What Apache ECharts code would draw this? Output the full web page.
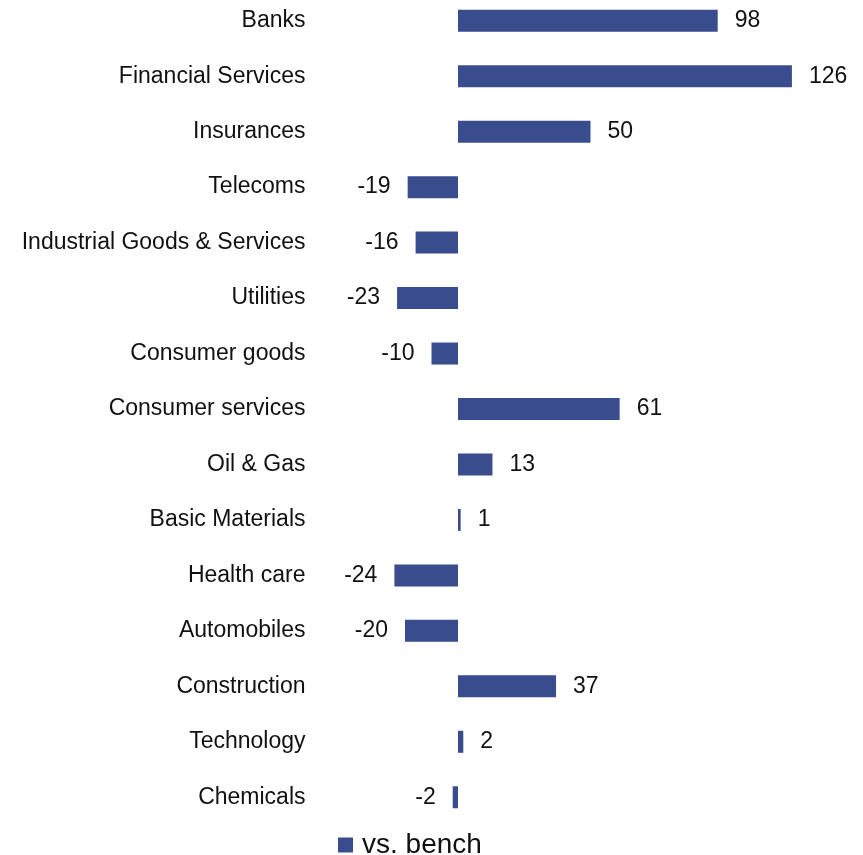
<!DOCTYPE html>
<html>
<head>
<meta charset="utf-8">
<script src="https://cdn.jsdelivr.net/npm/echarts@6/dist/echarts.min.js"></script>
<style>
  html, body { margin: 0; padding: 0; background: #fff; overflow: hidden; }
  /* chart is shifted up a bit: the first band starts above the page edge */
  #chart { width: 863px; height: 862px; margin-top: -7px; }
</style>
</head>
<body>
<div id="chart"></div>
<script>
// sector names, top to bottom
const sectors = [
  'Banks', 'Financial Services', 'Insurances', 'Telecoms',
  'Industrial Goods & Services', 'Utilities', 'Consumer goods',
  'Consumer services', 'Oil & Gas', 'Basic Materials', 'Health care',
  'Automobiles', 'Construction', 'Technology', 'Chemicals'
]
// relative position vs. benchmark
const vsBench = [98, 126, 50, -19, -16, -23, -10, 61, 13, 1, -24, -20, 37, 2, -2]

const chart = echarts.init(document.getElementById('chart'))
const font = 'Arial, "Liberation Sans", sans-serif'

chart.setOption({
  animation: false,
  textStyle: {fontFamily: font},
  legend: {
    data: ['vs. bench'],
    left: 338,
    top: 838,
    padding: 0,
    itemWidth: 15,
    itemHeight: 15,
    icon: 'rect',
    textStyle: {fontSize: 28, color: '#111', fontFamily: font, padding: [0, 0, 0, 4]}
  },
  grid: {left: 325.5, right: 34, top: 0, bottom: 30},
  xAxis: {
    type: 'value',
    min: -50,
    max: 140,
    show: false
  },
  yAxis: {
    type: 'category',
    inverse: true,
    data: sectors,
    axisLine: {show: false, onZero: false},
    axisTick: {show: false},
    splitLine: {show: false},
    axisLabel: {fontSize: 23, color: '#111', margin: 20, fontFamily: font}
  },
  series: [{
    name: 'vs. bench',
    type: 'bar',
    // negative values get their label on the left of the bar end
    data: vsBench.map(v => v < 0 ? {value: v, label: {position: 'left'}} : v),
    barWidth: 22,
    itemStyle: {color: '#394D8E'},
    label: {
      show: true,
      position: 'right',
      distance: 17,
      fontSize: 23,
      color: '#111',
      fontFamily: font
    }
  }]
})
</script>
</body>
</html>
